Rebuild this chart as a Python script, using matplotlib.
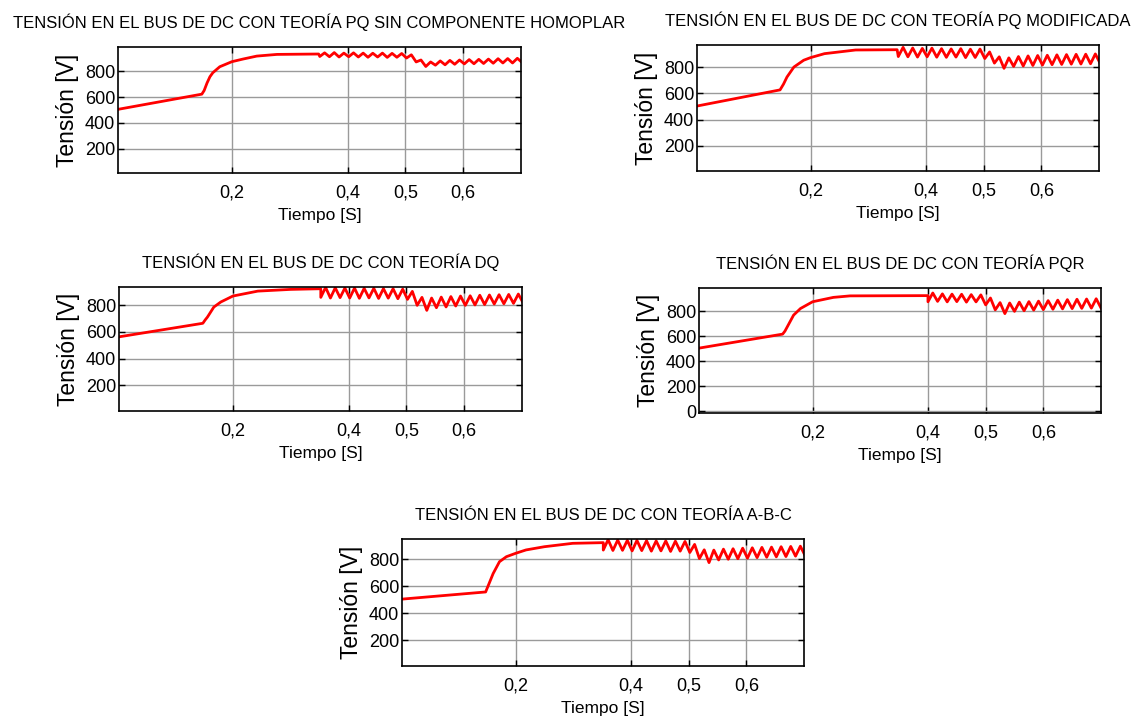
import numpy as np
import matplotlib
matplotlib.use("Agg")
import matplotlib.pyplot as plt

FONT = ["Liberation Sans", "DejaVu Sans"]

# --- startup part of each DC bus voltage trace (time [s], voltage [V])
t_pq_hom = [0.003, 0.148, 0.152, 0.157, 0.162, 0.167, 0.179, 0.2, 0.219, 0.243, 0.278, 0.35]
v_pq_hom = [505, 622, 650, 708, 756, 787, 833, 872, 892, 915, 928, 931]

t_pq_mod = [0.003, 0.147, 0.153, 0.159, 0.171, 0.188, 0.2, 0.224, 0.253, 0.278, 0.35]
v_pq_mod = [503, 626, 670, 724, 800, 852, 872, 902, 917, 930, 932]

t_dq = [0.003, 0.148, 0.152, 0.156, 0.167, 0.179, 0.2, 0.243, 0.3, 0.352]
v_dq = [563, 665, 690, 712, 787, 825, 870, 907, 920, 925]

t_pqr = [0.003, 0.148, 0.152, 0.156, 0.167, 0.179, 0.2, 0.236, 0.265, 0.4]
v_pqr = [504, 616, 640, 674, 768, 821, 875, 910, 922, 924]

t_abc = [0.003, 0.148, 0.153, 0.161, 0.172, 0.184, 0.2, 0.218, 0.25, 0.299, 0.352]
v_abc = [505, 558, 610, 694, 782, 819, 844, 869, 893, 918, 923]

# --- 60 Hz ripple once the load is connected: dip (cusp) and crest of each cycle
ripple_start = {"pq_hom": 0.352, "pq_mod": 0.352, "dq": 0.352, "pqr": 0.4, "abc": 0.352}

dips_pq_hom = [912, 910, 908, 910, 908, 906, 908, 905, 906, 900, 870, 835, 845, 848, 852, 855, 856, 858, 860, 862, 862]
crests_pq_hom = [940, 942, 938, 940, 938, 937, 938, 936, 935, 925, 885, 870, 878, 882, 885, 888, 890, 892, 895, 896, 898]

dips_pq_mod = [880, 878, 876, 878, 875, 874, 876, 872, 873, 865, 830, 790, 805, 808, 812, 815, 818, 820, 822, 823, 825]
crests_pq_mod = [950, 945, 942, 944, 940, 938, 940, 936, 937, 915, 878, 870, 880, 885, 888, 890, 893, 895, 897, 898, 900]

dips_dq = [860, 855, 858, 855, 853, 856, 852, 854, 850, 845, 800, 762, 782, 788, 795, 800, 803, 806, 810, 812, 815]
crests_dq = [935, 932, 930, 930, 928, 928, 926, 925, 922, 905, 860, 855, 862, 866, 870, 872, 876, 878, 880, 882, 885]

dips_pqr = [875, 878, 874, 876, 872, 874, 850, 810, 780, 798, 803, 808, 812, 815, 818, 820, 822, 824]
crests_pqr = [945, 938, 936, 935, 932, 930, 905, 868, 865, 872, 876, 880, 884, 888, 892, 895, 897, 899]

dips_abc = [868, 865, 866, 862, 864, 860, 862, 858, 860, 850, 805, 775, 795, 800, 804, 808, 812, 815, 818, 820, 823]
crests_abc = [945, 942, 940, 940, 938, 936, 936, 934, 932, 910, 870, 868, 875, 878, 882, 885, 888, 890, 893, 895, 897]

end_value = {"pq_hom": 865, "pq_mod": 828, "dq": 818, "pqr": 825, "abc": 826}

titles = {
    "pq_hom": "TENSIÓN EN EL BUS DE DC CON TEORÍA PQ SIN COMPONENTE HOMOPLAR",
    "pq_mod": "TENSIÓN EN EL BUS DE DC CON TEORÍA PQ MODIFICADA",
    "dq": "TENSIÓN EN EL BUS DE DC CON TEORÍA DQ",
    "pqr": "TENSIÓN EN EL BUS DE DC CON TEORÍA PQR",
    "abc": "TENSIÓN EN EL BUS DE DC CON TEORÍA A-B-C",
}

x_ticks = [0.2, 0.4, 0.5, 0.6]
x_ticklabels = ["0,2", "0,4", "0,5", "0,6"]


def build(t_start, v_start, key, dips, crests):
    period = 1 / 60
    t0 = ripple_start[key]
    t = list(t_start)
    v = list(v_start)
    for k, (d, c) in enumerate(zip(dips, crests)):
        t += [t0 + k * period, t0 + (k + 0.5) * period]
        v += [d, c]
    t.append(t0 + len(dips) * period)
    v.append(end_value[key])
    return np.array(t), np.array(v)


# axes boxes in pixels: left, right, top, bottom
W, H = 1142, 727
panels = [
    ("pq_hom", t_pq_hom, v_pq_hom, dips_pq_hom, crests_pq_hom, (118, 521, 47, 173), (15, 985), [200, 400, 600, 800]),
    ("pq_mod", t_pq_mod, v_pq_mod, dips_pq_mod, crests_pq_mod, (697, 1099, 45, 171), (8, 968), [200, 400, 600, 800]),
    ("dq", t_dq, v_dq, dips_dq, crests_dq, (119, 522, 287, 411), (5, 938), [200, 400, 600, 800]),
    ("pqr", t_pqr, v_pqr, dips_pqr, crests_pqr, (699, 1101, 288, 413), (-15, 985), [0, 200, 400, 600, 800]),
    ("abc", t_abc, v_abc, dips_abc, crests_abc, (402, 804, 539, 666), (10, 950), [200, 400, 600, 800]),
]

fig = plt.figure(figsize=(W / 100, H / 100), dpi=100)

for key, ts, vs, dips, crests, (l, r, tp, b), ylim, yticks in panels:
    ax = fig.add_axes([l / W, 1 - b / H, (r - l) / W, (b - tp) / H])
    t, v = build(ts, vs, key, dips, crests)
    ax.plot(t, v, color="#ff0000", lw=2.0, solid_joinstyle="round")
    ax.set_xlim(0.003, 0.7)
    ax.set_ylim(*ylim)
    ax.set_xticks(x_ticks)
    ax.set_xticklabels(x_ticklabels, family=FONT, fontsize=13)
    ax.set_yticks(yticks)
    ax.set_yticklabels([str(y) for y in yticks], family=FONT, fontsize=13)
    ax.grid(True, color="#9a9a9a", lw=1.0)
    ax.tick_params(direction="in", top=True, right=True, length=4, width=1, color="black")
    ax.tick_params(axis="x", pad=8)
    ax.tick_params(axis="y", pad=2)
    for sp in ax.spines.values():
        sp.set_linewidth(1.2)
        sp.set_color("black")
    ax.set_title(titles[key], family=FONT, fontsize=12, pad=14)
    ax.set_xlabel("Tiempo [S]", family=FONT, fontsize=12.5, labelpad=5)
    ax.set_ylabel("Tensión [V]", family=FONT, fontsize=16.5, labelpad=4)

fig.savefig("out.png", dpi=100)
